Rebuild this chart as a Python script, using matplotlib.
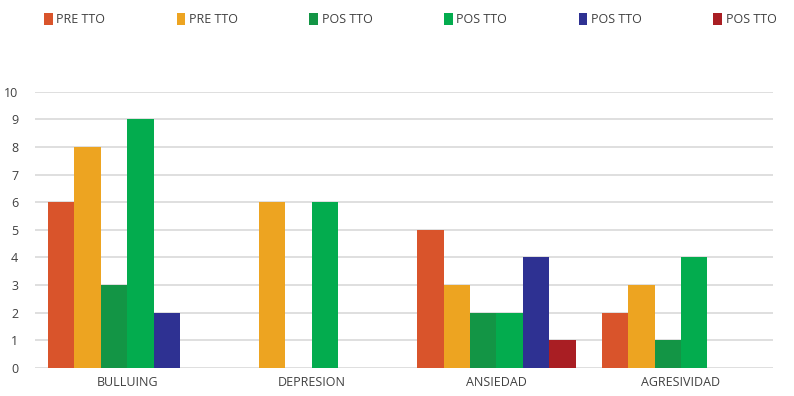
import numpy as np
import matplotlib.pyplot as plt

plt.rcParams['font.family'] = ['Open Sans', 'DejaVu Sans']

categorias = ['BULLUING', 'DEPRESION', 'ANSIEDAD', 'AGRESIVIDAD']
series = ['PRE TTO', 'PRE TTO', 'POS TTO', 'POS TTO', 'POS TTO', 'POS TTO']
colores = ['#D9542B', '#EDA421', '#139545', '#03AC4E', '#2E3192', '#A91E23']

serie1 = [6, 0, 5, 2]
serie2 = [8, 6, 3, 3]
serie3 = [3, 0, 2, 1]
serie4 = [9, 6, 2, 4]
serie5 = [2, 0, 4, 0]
serie6 = [0, 0, 1, 0]
valores = [serie1, serie2, serie3, serie4, serie5, serie6]

fig = plt.figure(figsize=(7.94, 3.96), dpi=100)
ax = fig.add_axes([0.044, 0.071, 0.93, 0.697])

x = np.arange(len(categorias))
ancho = 0.143
handles = []
for i, (vals, col) in enumerate(zip(valores, colores)):
    pos = x - 3 * ancho + ancho * (i + 0.5)
    b = ax.bar(pos, vals, width=ancho, color=col, zorder=3)
    handles.append(b)

ax.set_xlim(-0.5, len(categorias) - 0.5)
ax.set_ylim(0, 10)
ax.set_yticks(range(0, 11))
ax.set_xticks(x)
ax.set_xticklabels(categorias)
ax.yaxis.grid(True, color='#D9D9D9', linewidth=1.2, zorder=0)
for s in ax.spines.values():
    s.set_visible(False)
ax.tick_params(length=0, labelsize=9, colors='#404040')
ax.tick_params(axis='y', pad=12)
ax.tick_params(axis='x', pad=6)

fig.legend(handles, series, loc='upper left', bbox_to_anchor=(0.041, 0.995),
           ncol=6, frameon=False, fontsize=9, handlelength=0.7,
           handleheight=1.1, handletextpad=0.3, columnspacing=5.7,
           labelcolor='#404040')

plt.savefig('out.png', dpi=100)
